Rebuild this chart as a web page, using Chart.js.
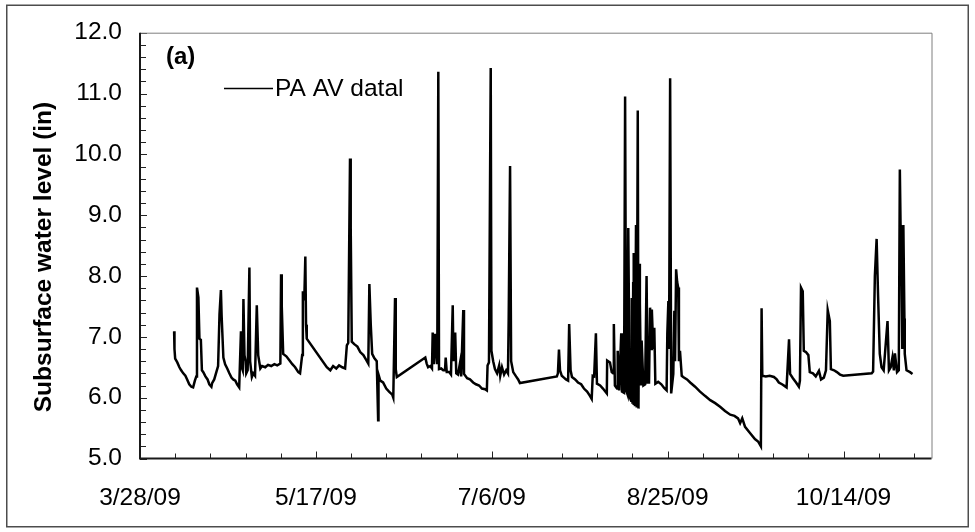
<!DOCTYPE html>
<html><head><meta charset="utf-8">
<script src="https://cdn.jsdelivr.net/npm/chart.js@4.4.1/dist/chart.umd.min.js"></script>
<style>html,body{margin:0;padding:0;background:#fff;}canvas{display:block;}</style>
</head><body>
<canvas id="c" width="975" height="532"></canvas>
<script>
// ---- data ----
const startDate = [2009, 2, 28];           // day 0 = 3/28/09
const xTickDays = [0, 50, 100, 150, 200];  // 3/28/09 ... 10/14/09
const yTicks = [5, 6, 7, 8, 9, 10, 11, 12];
const seriesLabel = 'PA AV datal';
const panelLabel = '(a)';
const yTitle = 'Subsurface water level (in)';

const dayOffset = [
 9.7,9.8,10.0,10.6,11.2,11.7,12.3,12.9,13.4,14.0,14.6,15.1,15.6,16.0,16.2,16.6,16.9,17.3,17.6,18.0,
 18.6,19.2,19.7,20.3,20.5,21.1,21.7,22.2,22.6,23.0,23.2,23.7,24.2,24.8,25.4,26.0,26.5,27.1,27.6,28.2,
 28.7,28.9,29.2,29.4,29.7,30.0,30.2,30.6,31.1,31.3,31.8,32.2,32.7,33.2,33.6,34.2,34.7,35.6,36.4,37.3,
 38.2,39.0,39.9,40.1,40.3,40.7,41.6,42.4,43.3,44.1,45.0,45.5,46.1,46.3,46.7,47.0,47.2,47.4,
 53.1,54.1,54.9,55.8,56.6,57.5,58.3,58.8,59.2,59.7,59.9,60.2,60.9,61.8,62.6,63.5,64.3,64.9,65.2,65.6,
 66.0,66.6,67.3,67.7,67.8,68.3,69.1,70.0,70.8,71.7,72.0,72.5,72.7,73.0,
 81.1,81.5,81.9,82.5,83.0,83.2,83.6,83.9,84.5,84.8,85.0,85.6,86.2,86.7,86.9,87.2,87.9,88.4,88.9,89.1,
 89.6,89.9,90.4,91.0,91.3,91.9,92.1,93.0,93.8,94.7,95.5,96.4,97.2,98.1,98.6,98.8,99.2,99.7,99.9,100.4,
 100.9,101.5,102.1,102.4,102.9,103.5,104.1,104.6,104.8,105.2,105.5,106.1,106.9,107.5,108.0,
 118.5,118.8,119.1,119.4,119.9,120.5,121.1,121.7,122.0,122.4,122.8,123.7,124.5,125.4,126.2,127.1,127.9,128.4,128.7,129.1,
 129.6,129.9,130.8,131.6,132.7,132.8,133.6,134.1,134.5,134.7,135.0,135.6,135.8,136.2,136.8,137.0,137.6,137.9,138.2,138.6,
 138.8,139.2,139.6,139.8,140.0,140.2,140.3,140.4,140.7,141.0,141.2,141.5,141.7,141.9,142.1,142.4,142.6,143.1,143.6,144.0,
 144.3,144.7,145.0,145.3,145.5,145.9,146.2,146.5,147.3,148.2,149.0,149.7,149.9,150.2,150.4,150.7,151.0,151.6,151.9,152.1,
 152.4,152.7,153.0,153.2,153.5,154.0,
 154.4,155.5,156.4,157.8,159.2,160.6,162.1,163.5,164.9,166.3,167.8,169.0,170.0,170.6,171.2,172.0,173.4,174.8,175.7,176.5,
 176.7,176.9,177.9,179.0,180.2,181.0,181.6,182.5,183.3,183.8,184.5,184.8,185.6,186.5,187.3,187.6,187.9,188.4,188.7,189.3,
 190.0,190.4,191.3,192.1,193.0,193.6,194.4,195.0,195.5,196.1,196.4,197.3,198.1,199.0,199.9,
 208.0,208.4,208.9,209.4,209.8,210.3,210.8,211.4,212.5,212.9,213.4,213.9,214.3,214.6,215.2,215.7,216.0,216.2,216.4,216.7,
 217.0,217.3,217.4,217.9,218.9,219.6
];
const level = [
 7.09,6.80,6.64,6.58,6.50,6.45,6.40,6.36,6.30,6.22,6.18,6.17,6.28,6.35,7.81,7.65,6.97,6.95,6.45,6.42,
 6.35,6.30,6.22,6.18,6.24,6.30,6.42,6.52,7.37,7.77,7.35,6.66,6.55,6.48,6.40,6.33,6.30,6.28,6.22,6.17,
 7.09,6.50,6.45,7.62,6.70,6.60,6.40,6.45,8.14,6.60,6.34,6.40,6.36,7.52,6.70,6.48,6.52,6.50,6.54,6.52,
 6.55,6.53,6.56,8.03,7.50,6.72,6.68,6.62,6.55,6.50,6.42,6.40,6.70,7.75,7.60,8.32,7.20,6.97,
 6.50,6.45,6.52,6.48,6.53,6.50,6.48,6.86,6.90,9.93,8.79,6.92,6.88,6.84,6.75,6.70,6.62,6.56,7.87,7.20,
 6.72,6.65,6.60,5.63,6.38,6.28,6.25,6.15,6.10,6.05,6.00,7.64,6.47,6.34,
 6.66,6.56,6.50,6.52,6.48,7.07,6.55,7.05,6.55,11.36,6.47,6.48,6.45,6.45,6.66,6.42,6.42,6.38,7.52,6.60,
 7.07,6.40,6.38,6.58,6.35,7.44,6.39,6.32,6.30,6.25,6.22,6.20,6.15,6.14,6.12,6.53,6.58,11.42,6.77,6.60,
 6.47,6.40,6.53,6.36,6.50,6.38,6.45,6.40,7.26,9.81,6.60,6.42,6.35,6.30,6.24,
 6.35,6.40,6.79,6.45,6.36,6.33,6.30,6.28,7.21,6.45,6.34,6.30,6.25,6.22,6.15,6.10,6.03,5.98,6.36,6.35,
 7.06,6.23,6.20,6.15,6.07,6.61,6.58,6.42,6.40,7.21,6.20,6.15,6.77,6.12,7.06,6.10,6.08,10.95,6.12,6.05,
 8.79,6.01,5.95,7.64,5.90,7.90,5.88,8.38,5.86,8.84,5.84,10.72,5.82,8.20,7.56,6.20,6.94,6.20,6.22,8.00,
 6.25,6.25,7.48,6.80,7.45,6.80,7.15,6.23,6.26,6.22,6.16,6.12,7.05,7.59,6.80,11.25,6.07,6.39,7.43,6.60,
 8.11,7.90,7.81,6.60,6.77,6.36,
 6.34,6.30,6.25,6.18,6.10,6.03,5.96,5.91,5.85,5.78,5.72,5.70,5.66,5.58,5.66,5.52,5.42,5.32,5.28,5.20,
 7.47,6.36,6.35,6.36,6.34,6.30,6.25,6.22,6.19,6.17,6.96,6.39,6.32,6.25,6.18,6.28,7.81,7.75,6.77,6.75,
 6.70,6.42,6.40,6.35,6.44,6.30,6.33,6.45,7.44,7.26,6.47,6.45,6.42,6.38,6.36,
 6.40,6.43,8.00,8.61,7.70,6.72,6.50,6.45,7.26,6.45,6.50,6.66,6.45,6.73,6.42,6.45,9.75,8.84,8.80,6.80,
 8.84,7.30,6.72,6.45,6.42,6.39
];

// ---- chart ----
const FONT = '"Liberation Sans", Arial, Helvetica, sans-serif';
Chart.defaults.font.family = FONT;
Chart.defaults.color = '#000';

function fmtDate(d) {
  const dt = new Date(startDate[0], startDate[1], startDate[2] + d);
  const yy = String(dt.getFullYear() % 100).padStart(2, '0');
  return (dt.getMonth() + 1) + '/' + dt.getDate() + '/' + yy;
}

const points = dayOffset.map((d, i) => ({ x: d, y: level[i] }));

const decor = {
  id: 'decor',
  afterDatasetsDraw(chart) {
    const { ctx, chartArea: a, scales: { x, y } } = chart;
    ctx.save();
    // inside tick marks
    ctx.strokeStyle = '#222';
    ctx.lineWidth = 1;
    for (let k = 25; k <= 60; k++) {
      const v = k / 5;
      const py = Math.round(y.getPixelForValue(v)) + 0.5;
      const major = k % 5 === 0;
      ctx.beginPath();
      ctx.moveTo(a.left, py);
      ctx.lineTo(a.left + (major ? 7 : 6), py);
      ctx.stroke();
    }
    for (let d = 10; d <= 220; d += 10) {
      const px = Math.round(x.getPixelForValue(d)) + 0.5;
      const major = d % 50 === 0;
      ctx.beginPath();
      ctx.moveTo(px, a.bottom);
      ctx.lineTo(px, a.bottom - (major ? 7 : 5));
      ctx.stroke();
    }
    // plot frame top/right
    ctx.strokeStyle = '#7f7f7f';
    ctx.lineWidth = 1;
    ctx.beginPath();
    ctx.moveTo(a.left, a.top + 0.5);
    ctx.lineTo(a.right + 0.5, a.top + 0.5);
    ctx.lineTo(a.right + 0.5, a.bottom);
    ctx.stroke();
    // axes left/bottom
    ctx.strokeStyle = '#1a1a1a';
    ctx.lineWidth = 2;
    ctx.beginPath();
    ctx.moveTo(a.left, a.top);
    ctx.lineTo(a.left, a.bottom);
    ctx.lineTo(a.right, a.bottom);
    ctx.stroke();
    // legend
    ctx.strokeStyle = '#000';
    ctx.lineWidth = 1.5;
    ctx.beginPath();
    ctx.moveTo(224, 88.5);
    ctx.lineTo(273, 88.5);
    ctx.stroke();
    ctx.fillStyle = '#000';
    ctx.textAlign = 'left';
    ctx.textBaseline = 'middle';
    ctx.font = '24.5px ' + FONT;
    ctx.fillText(seriesLabel, 275, 89);
    // panel label
    ctx.font = 'bold 24px ' + FONT;
    ctx.fillText(panelLabel, 166, 57);
    // y title
    ctx.save();
    ctx.translate(44, 257);
    ctx.rotate(-Math.PI / 2);
    ctx.textAlign = 'center';
    ctx.font = 'bold 24.5px ' + FONT;
    ctx.fillText(yTitle, 0, 0);
    ctx.restore();
    // outer border
    ctx.strokeStyle = '#4d4d4d';
    ctx.lineWidth = 1.5;
    ctx.strokeRect(6.75, 5.25, 961.5, 521.5);
    ctx.restore();
  }
};

new Chart(document.getElementById('c'), {
  type: 'line',
  data: {
    datasets: [{
      label: seriesLabel,
      data: points,
      borderColor: '#000',
      borderWidth: 2.5,
      borderJoinStyle: 'miter',
      pointRadius: 0,
      tension: 0,
      fill: false
    }]
  },
  options: {
    responsive: false,
    animation: false,
    events: [],
    layout: { padding: { top: 30, right: 43.5, left: 0, bottom: 0 } },
    plugins: { legend: { display: false }, tooltip: { enabled: false }, title: { display: false } },
    scales: {
      x: {
        type: 'linear',
        min: 0,
        max: 225,
        afterBuildTicks: s => { s.ticks = xTickDays.map(v => ({ value: v })); },
        afterFit: s => { s.height = 73.5; },
        grid: { display: false, drawTicks: false },
        border: { display: false },
        ticks: {
          autoSkip: false, maxRotation: 0, minRotation: 0,
          padding: 25,
          font: { size: 24.5 },
          color: '#000',
          callback: v => fmtDate(v)
        }
      },
      y: {
        min: 5,
        max: 12,
        afterBuildTicks: s => { s.ticks = yTicks.map(v => ({ value: v })); },
        afterFit: s => { s.width = 140; },
        grid: { display: false, drawTicks: false },
        border: { display: false },
        ticks: {
          padding: 18,
          font: { size: 24.5 },
          color: '#000',
          callback: v => Number(v).toFixed(1)
        }
      }
    }
  },
  plugins: [decor]
});
</script>
</body></html>
